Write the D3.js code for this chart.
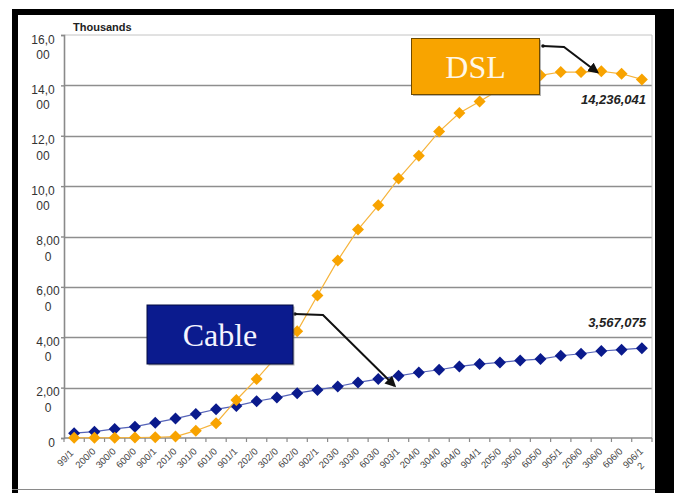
<!DOCTYPE html>
<html>
<head>
<meta charset="utf-8">
<script src="https://cdn.jsdelivr.net/npm/d3@7"></script>
<style>
  html, body { margin: 0; padding: 0; background: #fff; overflow: hidden; }
  svg { display: block; }
</style>
</head>
<body>
<svg id="chart" width="674" height="493"></svg>
<script>
// Quarter labels along the x axis (as printed, wrapped by the axis)
const quarterLabels = [
  "99/1", "200/0", "300/0", "600/0", "900/1",
  "201/0", "301/0", "601/0", "901/1",
  "202/0", "302/0", "602/0", "902/1",
  "203/0", "303/0", "603/0", "903/1",
  "204/0", "304/0", "604/0", "904/1",
  "205/0", "305/0", "605/0", "905/1",
  "206/0", "306/0", "606/0", "906/1\n2"
];

// Subscribers, in thousands
const dslSubs = [
  10, 10, 10, 20, 30, 55, 290, 590, 1510,
  2340, 3250, 4235, 5660, 7050, 8275, 9240, 10300,
  11210, 12165, 12900, 13360, 13850, 14150, 14400,
  14530, 14530, 14560, 14460, 14236
];
const cableSubs = [
  190, 250, 360, 450, 610, 770, 955, 1140, 1275,
  1460, 1605, 1780, 1910, 2045, 2205, 2340, 2470,
  2600, 2710, 2840, 2935, 3000, 3080, 3135,
  3265, 3345, 3455, 3505, 3567
];

// Y axis ticks (thousands)
const yTicks = [0, 2000, 4000, 6000, 8000, 10000, 12000, 14000, 16000];

// End-of-series callouts
const dslEndLabel = "14,236,041";
const cableEndLabel = "3,567,075";
const unitLabel = "Thousands";

const svg = d3.select("#chart");
const W = 674, H = 493;

// Presentation frame
svg.append("rect").attr("x", 12).attr("y", 9).attr("width", W - 12).attr("height", H - 9).attr("fill", "#000");
svg.append("rect").attr("x", 18).attr("y", 15).attr("width", 637).attr("height", H - 15).attr("fill", "#fff");
svg.append("line").attr("x1", 12).attr("x2", 655).attr("y1", 489.5).attr("y2", 489.5)
  .attr("stroke", "#8a8a8a").attr("stroke-width", 1);

const plot = { left: 64, right: 652, top: 35, bottom: 438 };

const x = d3.scaleBand()
  .domain(d3.range(quarterLabels.length))
  .range([plot.left, plot.right])
  .paddingInner(0).paddingOuter(0);
const cx = i => x(i) + x.bandwidth() / 2;

const y = d3.scaleLinear()
  .domain([0, 16000])
  .range([plot.bottom, plot.top]);

// Gridlines
const gridTicks = yTicks.filter(t => t > 0 && t < 16000);
svg.append("g").selectAll("line").data(gridTicks).join("line")
  .attr("x1", plot.left).attr("x2", plot.right)
  .attr("y1", d => Math.round(y(d)) + 0.5).attr("y2", d => Math.round(y(d)) + 0.5)
  .attr("stroke", "#8e8e8e").attr("stroke-width", 1.6);

// Plot area border (top / right)
svg.append("line").attr("x1", plot.left).attr("x2", plot.right)
  .attr("y1", y(16000)).attr("y2", y(16000)).attr("stroke", "#c4c4c4").attr("stroke-width", 1);
svg.append("line").attr("x1", plot.right).attr("x2", plot.right)
  .attr("y1", y(16000)).attr("y2", plot.bottom).attr("stroke", "#c4c4c4").attr("stroke-width", 1);

// Y axis
const yAxis = d3.axisLeft(y).tickValues(yTicks).tickSize(3).tickFormat("");
const gy = svg.append("g").attr("transform", `translate(${plot.left},0)`).call(yAxis);
gy.select(".domain").attr("stroke", "#8a8a8a").attr("stroke-width", 1.6);
gy.selectAll(".tick line").attr("stroke", "#8a8a8a").attr("stroke-width", 1.4);

// Y tick labels, wrapped after four characters
const fmt = d3.format(",");
const labelCenter = { 6: 43, 5: 48, 1: 51.5 };
const yLab = svg.append("g")
  .attr("font-family", "'Liberation Sans', Arial, sans-serif")
  .attr("font-size", 12).attr("fill", "#333");
yTicks.forEach(t => {
  const s = fmt(t);
  const lines = [s.slice(0, 4), s.slice(4)].filter(l => l.length);
  const xc = labelCenter[s.length] || 46;
  lines.forEach((l, k) => {
    yLab.append("text")
      .attr("x", xc).attr("y", y(t) + 8.5 + k * 15.5)
      .attr("text-anchor", "middle")
      .text(l);
  });
});

// Unit label
svg.append("text").attr("x", 73).attr("y", 30.5)
  .attr("font-family", "'Liberation Sans', Arial, sans-serif")
  .attr("font-size", 11).attr("font-weight", "bold").attr("fill", "#222")
  .text(unitLabel);

// X axis with ticks at category boundaries
const boundaries = d3.range(quarterLabels.length + 1).map(i => plot.left + i * x.bandwidth());
svg.append("line").attr("x1", plot.left).attr("x2", plot.right)
  .attr("y1", plot.bottom).attr("y2", plot.bottom)
  .attr("stroke", "#8a8a8a").attr("stroke-width", 1.6);
svg.append("g").selectAll("line").data(boundaries).join("line")
  .attr("x1", d => d).attr("x2", d => d)
  .attr("y1", plot.bottom).attr("y2", plot.bottom + 4)
  .attr("stroke", "#8a8a8a").attr("stroke-width", 1.2);

// X tick labels, rotated
const xLab = svg.append("g")
  .attr("font-family", "'Liberation Sans', Arial, sans-serif")
  .attr("font-size", 9.5).attr("fill", "#444");
quarterLabels.forEach((lab, i) => {
  const g = xLab.append("g").attr("transform", `translate(${cx(i) - 9},${458}) rotate(-45)`);
  lab.split("\n").forEach((l, k) => {
    g.append("text").attr("x", 0).attr("y", k * 11).attr("dy", "0.35em")
      .attr("text-anchor", "middle").text(l);
  });
});

// Series
const diamond = d3.symbol().type(d3.symbolSquare).size(72);
function drawSeries(values, lineColor, markColor) {
  const line = d3.line().x((d, i) => cx(i)).y(d => y(d));
  svg.append("path").datum(values).attr("d", line)
    .attr("fill", "none").attr("stroke", lineColor).attr("stroke-width", 1.2);
  svg.append("g").selectAll("path").data(values).join("path")
    .attr("d", diamond)
    .attr("transform", (d, i) => `translate(${cx(i)},${y(d)}) rotate(45)`)
    .attr("fill", markColor);
}
drawSeries(cableSubs, "#5563b8", "#0a1a8c");
drawSeries(dslSubs, "#f6b43c", "#f8a300");

// End value labels
const endFont = { family: "'Liberation Sans', Arial, sans-serif", size: 13 };
svg.append("text").attr("x", 646).attr("y", 103.5)
  .attr("text-anchor", "end").attr("font-family", endFont.family)
  .attr("font-size", endFont.size).attr("font-style", "italic").attr("font-weight", "bold")
  .attr("fill", "#222").text(dslEndLabel);
svg.append("text").attr("x", 646).attr("y", 327)
  .attr("text-anchor", "end").attr("font-family", endFont.family)
  .attr("font-size", endFont.size).attr("font-style", "italic").attr("font-weight", "bold")
  .attr("fill", "#222").text(cableEndLabel);

// Callout arrows
const defs = svg.append("defs");
defs.append("marker").attr("id", "head")
  .attr("viewBox", "0 0 10 10").attr("refX", 8).attr("refY", 5)
  .attr("markerWidth", 5.5).attr("markerHeight", 5.5).attr("orient", "auto")
  .append("path").attr("d", "M0,0 L10,5 L0,10 z").attr("fill", "#111");

function callout(x0, y0, xBend, tx, ty) {
  svg.append("path")
    .attr("d", `M${x0},${y0} L${xBend},${y0 + 1} L${tx},${ty}`)
    .attr("fill", "none").attr("stroke", "#111").attr("stroke-width", 2)
    .attr("marker-end", "url(#head)");
  svg.append("circle").attr("cx", x0).attr("cy", y0).attr("r", 1.8).attr("fill", "#111");
}
callout(543, 46, 564, cx(26) - 4, y(dslSubs[26]) + 1);
callout(295, 314, 323, cx(16) - 4, y(cableSubs[16]) + 10);

// Series name boxes
function nameBox(x0, y0, w, h, fill, stroke, label, textColor) {
  svg.append("rect").attr("x", x0 + 1.5).attr("y", y0 + 1.5).attr("width", w).attr("height", h)
    .attr("fill", "#777").attr("opacity", 0.55);
  svg.append("rect").attr("x", x0).attr("y", y0).attr("width", w).attr("height", h)
    .attr("fill", fill).attr("stroke", stroke).attr("stroke-width", 1);
  svg.append("text").attr("x", x0 + w / 2).attr("y", y0 + h / 2 + 11)
    .attr("text-anchor", "middle")
    .attr("font-family", "'Liberation Serif', 'Times New Roman', serif")
    .attr("font-size", 32).attr("fill", textColor).text(label);
}
nameBox(411.5, 38.5, 128, 56, "#f8a400", "#6e4a00", "DSL", "#fff7e6");
nameBox(147, 305, 146, 59, "#0b1b8e", "#020a40", "Cable", "#f4f4ff");
</script>
</body>
</html>
